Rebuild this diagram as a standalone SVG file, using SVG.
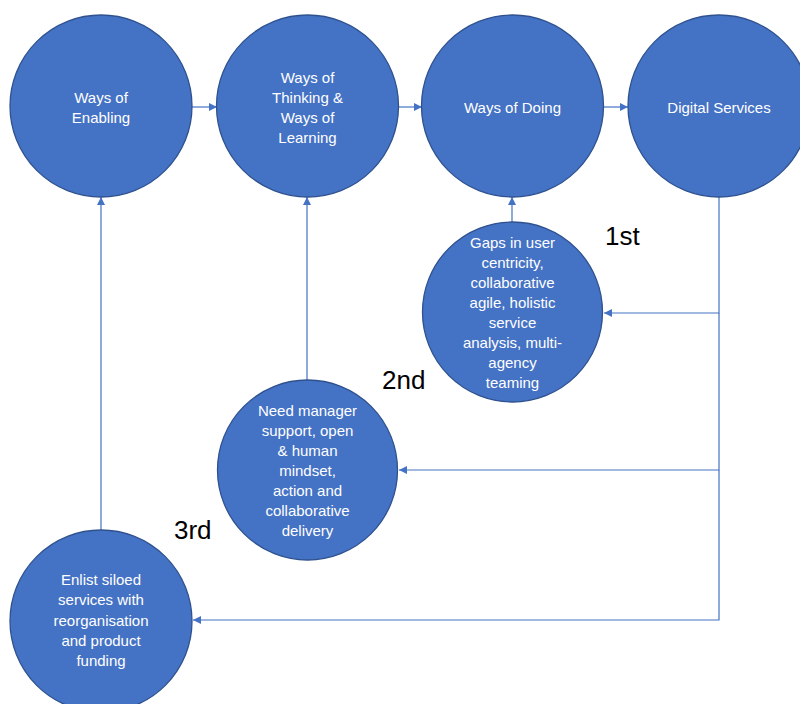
<svg xmlns="http://www.w3.org/2000/svg" width="800" height="704" viewBox="0 0 800 704">
<defs>
<marker id="ah" viewBox="0 0 10 10" refX="10" refY="5" markerWidth="8" markerHeight="8" markerUnits="userSpaceOnUse" orient="auto">
<path d="M0,0 L10,5 L0,10 z" fill="#4472C4"/>
</marker>
<style>
.n{fill:#4472C4;stroke:#2F528F;stroke-width:1.3}
.t{fill:#ffffff;font-family:"Liberation Sans",Arial,sans-serif;font-size:15px;text-anchor:middle}
.c{fill:none;stroke:#4472C4;stroke-width:1.2}
.l{fill:#000000;font-family:"Liberation Sans",Arial,sans-serif;font-size:26px}
</style>
</defs>
<rect width="800" height="704" fill="#ffffff"/>
<g id="connectors">
<line class="c" x1="192" y1="107" x2="217" y2="107" marker-end="url(#ah)"/>
<line class="c" x1="398" y1="107" x2="422" y2="107" marker-end="url(#ah)"/>
<line class="c" x1="603" y1="107" x2="628" y2="107" marker-end="url(#ah)"/>
<line class="c" x1="512" y1="222" x2="512" y2="197" marker-end="url(#ah)"/>
<line class="c" x1="307" y1="380" x2="307" y2="197" marker-end="url(#ah)"/>
<line class="c" x1="101" y1="530" x2="101" y2="197" marker-end="url(#ah)"/>
<polyline class="c" points="719,197 719,313 604,313" marker-end="url(#ah)"/>
<polyline class="c" points="719,313 719,470 399,470" marker-end="url(#ah)"/>
<polyline class="c" points="719,470 719,620 193,620" marker-end="url(#ah)"/>
</g>
<g id="ways-of-enabling">
<circle class="n" cx="101" cy="106" r="91"/>
<text class="t" x="101" y="103">Ways of</text>
<text class="t" x="101" y="123">Enabling</text>
</g>
<g id="ways-of-thinking">
<circle class="n" cx="307.5" cy="106" r="91"/>
<text class="t" x="307.5" y="83">Ways of</text>
<text class="t" x="307.5" y="103">Thinking &amp;</text>
<text class="t" x="307.5" y="123">Ways of</text>
<text class="t" x="307.5" y="143">Learning</text>
</g>
<g id="ways-of-doing">
<circle class="n" cx="512.5" cy="106" r="91"/>
<text class="t" x="512.5" y="113">Ways of Doing</text>
</g>
<g id="digital-services">
<circle class="n" cx="719" cy="106" r="91"/>
<text class="t" x="719" y="113">Digital Services</text>
</g>
<g id="gaps">
<circle class="n" cx="512.5" cy="312" r="90"/>
<text class="t" x="512.5" y="248">Gaps in user</text>
<text class="t" x="512.5" y="268">centricity,</text>
<text class="t" x="512.5" y="288">collaborative</text>
<text class="t" x="512.5" y="308">agile, holistic</text>
<text class="t" x="512.5" y="328">service</text>
<text class="t" x="512.5" y="348">analysis, multi-</text>
<text class="t" x="512.5" y="368">agency</text>
<text class="t" x="512.5" y="388">teaming</text>
</g>
<g id="need-manager">
<circle class="n" cx="307.5" cy="470" r="90"/>
<text class="t" x="307.5" y="416">Need manager</text>
<text class="t" x="307.5" y="436">support, open</text>
<text class="t" x="307.5" y="456">&amp; human</text>
<text class="t" x="307.5" y="476">mindset,</text>
<text class="t" x="307.5" y="496">action and</text>
<text class="t" x="307.5" y="516">collaborative</text>
<text class="t" x="307.5" y="536">delivery</text>
</g>
<g id="enlist">
<circle class="n" cx="101" cy="621" r="91"/>
<text class="t" x="101" y="585">Enlist siloed</text>
<text class="t" x="101" y="605">services with</text>
<text class="t" x="101" y="626">reorganisation</text>
<text class="t" x="101" y="646">and product</text>
<text class="t" x="101" y="666">funding</text>
</g>
<g id="labels">
<text class="l" x="605" y="245">1st</text>
<text class="l" x="382" y="389">2nd</text>
<text class="l" x="174" y="539">3rd</text>
</g>
</svg>
